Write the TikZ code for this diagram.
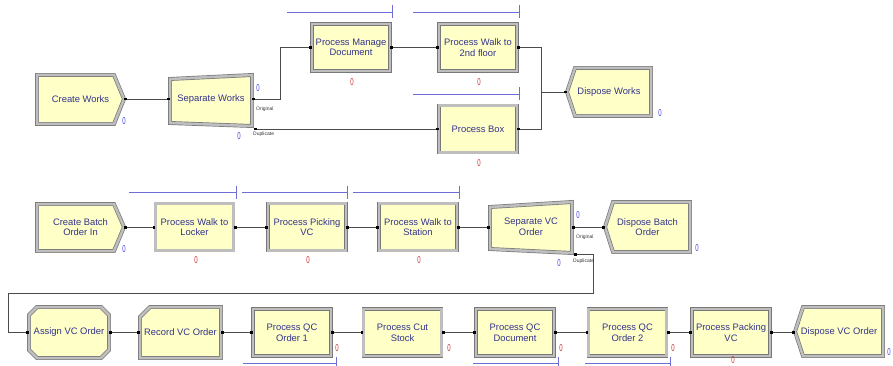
\documentclass[tikz,border=0pt]{standalone}
\usepackage{fontspec}
\setmainfont{Liberation Sans}
\usepackage{graphicx}
\usetikzlibrary{arrows.meta}
\definecolor{arenafill}{RGB}{255,255,200}
\definecolor{modedge}{RGB}{120,120,120}
\definecolor{modband}{RGB}{190,190,190}
\definecolor{modtxt}{RGB}{51,51,140}
\definecolor{cntblue}{RGB}{70,70,220}
\definecolor{cntred}{RGB}{205,50,50}
\definecolor{resline}{RGB}{110,110,215}
\definecolor{connline}{RGB}{75,75,75}
\newcommand{\modfont}{\fontsize{9.4}{10.6}\selectfont}
\tikzset{
  portsq/.tip={Square[length=2.6pt,width=2.6pt,black]},
  modframe/.style={draw=modedge, double=modband, double distance=2.5pt, line width=0.7pt, fill=arenafill},
  proc/.style={modframe, rectangle, minimum width=78, minimum height=47, inner sep=1pt, align=center, text=modtxt, font=\modfont},
  modtext/.style={rectangle, inner sep=0pt, outer sep=0pt, align=center, text=modtxt, font=\modfont},
  conn/.style={draw=connline, line width=0.8pt, portsq-portsq},
  connin/.style={draw=connline, line width=0.8pt, portsq-},
  res/.style={draw=resline, line width=0.8pt},
  cnt/.style={inner sep=0pt, font=\fontsize{10}{10}\selectfont},
  exitlbl/.style={anchor=west, inner sep=0pt, font=\fontsize{5}{5}\selectfont, text=black!80}
}
\begin{document}
\begin{tikzpicture}[x=1pt, y=-1pt]
\useasboundingbox (0,0) rectangle (893,366);
\draw[modframe] (37,75) -- (114,75) -- (124,99) -- (114,124) -- (37,124) -- cycle;
\draw[modframe] (170,79) -- (252,75) -- (252,126) -- (170,123) -- cycle;
\draw[modframe] (575,68) -- (651,68) -- (651,116) -- (575,116) -- (567,92) -- cycle;
\draw[modframe] (37,204) -- (114,204) -- (124,227) -- (114,251) -- (37,251) -- cycle;
\draw[modframe] (490,207) -- (572,202) -- (572,253) -- (490,249) -- cycle;
\draw[modframe] (613,202) -- (690,202) -- (690,252) -- (613,252) -- (605,227) -- cycle;
\draw[modframe] (37,307) -- (101,307) -- (109,315) -- (109,350) -- (101,358) -- (37,358) -- (29,350) -- (29,315) -- cycle;
\draw[modframe] (150,307) -- (221,307) -- (221,358) -- (140,358) -- (140,317) -- cycle;
\draw[modframe] (803,307) -- (883,307) -- (883,356) -- (803,356) -- (795,331.5) -- cycle;

\node[modtext, minimum width=87, minimum height=49] (cw) at (80.5,99) {Create Works};
\node[modtext, minimum width=82, minimum height=51] (sw) at (211,99) {Separate Works};
\node[proc] (pmd) at (351,47.5) {Process Manage\\Document};
\node[proc] (pw2) at (478,47.5) {Process Walk to\\2nd floor};
\node[proc] (pbx) at (478,129) {Process Box};
\node[modtext, minimum width=84, minimum height=48] (dw) at (609,92) {Dispose Works};

\node[modtext, minimum width=87, minimum height=47] (cbo) at (80.5,227) {Create Batch\\Order In};
\node[proc] (pwl) at (194.5,227) {Process Walk to\\Locker};
\node[proc] (ppv) at (307,227) {Process Picking\\VC};
\node[proc] (pws) at (418,227) {Process Walk to\\Station};
\node[modtext, minimum width=82, minimum height=51] (svo) at (531,227) {Separate VC\\Order};
\node[modtext, minimum width=85, minimum height=49] (dbo) at (647.5,227) {Dispose Batch\\Order};

\node[modtext, minimum width=80, minimum height=51] (avo) at (69,332.5) {Assign VC Order};
\node[modtext, minimum width=81, minimum height=51] (rvo) at (180.5,332.5) {Record VC Order};
\node[proc] (pq1) at (292,332.5) {Process QC\\Order 1};
\node[proc] (pcs) at (402.5,332.5) {Process Cut\\Stock};
\node[proc] (pqd) at (515,332.5) {Process QC\\Document};
\node[proc] (pq2) at (627.5,332.5) {Process QC\\Order 2};
\node[proc] (ppk) at (731,332.5) {Process Packing\\VC};
\node[modtext, minimum width=88, minimum height=49] (dvo) at (839,332.5) {Dispose VC Order};

\coordinate (swdup) at (254,129);
\coordinate (dwjoin) at (541,92);
\coordinate (svodup) at (574,254);
\coordinate (loopa) at (593,293);
\coordinate (loopb) at (8,332.5);

\draw[conn] (cw.east) -- (sw.west);
\draw[conn] (sw.east) -- ++(28,0) |- (pmd.west);
\draw[conn] (swdup) -- (pbx.west);
\draw[conn] (pmd.east) -- (pw2.west);
\draw[conn] (pw2.east) -| (dwjoin) -- (dw.west);
\draw[connin] (pbx.east) -| (dwjoin);
\foreach \a/\b in {cbo/pwl, pwl/ppv, ppv/pws, pws/svo, svo/dbo, avo/rvo, rvo/pq1, pq1/pcs, pcs/pqd, pqd/pq2, pq2/ppk, ppk/dvo}
  \draw[conn] (\a.east) -- (\b.west);
\draw[conn] (svodup) -| (loopa) -| (loopb) -- (avo.west);

\node[exitlbl] (swo) at (256,109) {Original};
\node[exitlbl] (swd) at (253,134) {Duplicate};
\node[exitlbl] (svoo) at (576,237) {Original};
\node[exitlbl] (svod) at (573,261) {Duplicate};

\foreach \a/\b/\y in {287/392/12, 413/519/12, 413/519/94, 129/236/192, 242/347/192, 353/459/192}
  \draw[res] (\a,\y) -- (\b,\y) (\b,\y-6.5) -- (\b,\y+6.5);
\foreach \a/\b in {243/336, 473/558, 585/670}
  \draw[res] (\a,363) -- (\b,363) (\b,357) -- (\b,366);

\foreach \x/\y [count=\i] in {124/121, 258/88, 239/136, 660/113, 124/249, 578/215, 559/263, 697/248, 889/352}
  \node[cnt, text=cntblue] (cb\i) at (\x,\y) {\scalebox{.6}[1]{0}};
\foreach \x/\y [count=\i] in {352/82, 479/82, 479/163, 196/260, 308/260, 419/260, 337/348, 449/348, 561/348, 673/348, 733/360}
  \node[cnt, text=cntred] (cr\i) at (\x,\y) {\scalebox{.6}[1]{0}};
\end{tikzpicture}
\end{document}
